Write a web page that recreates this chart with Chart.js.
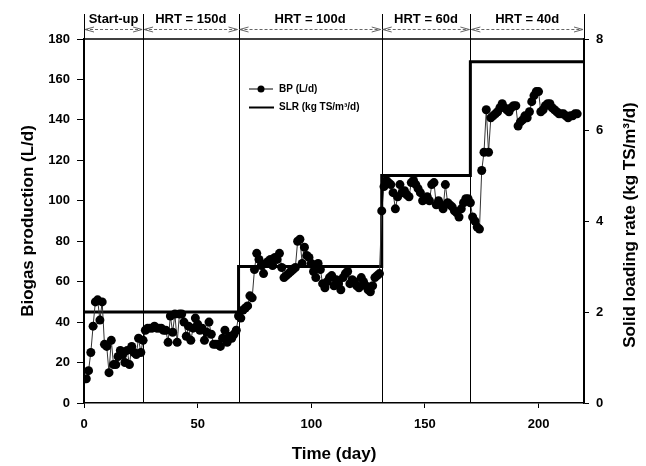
<!DOCTYPE html>
<html>
<head>
<meta charset="utf-8">
<script src="https://cdn.jsdelivr.net/npm/chart.js@4"></script>
<style>
  body { margin: 0; background: #fff; }
</style>
</head>
<body>
<canvas id="chart" width="646" height="466"></canvas>
<script>
// biogas production, one reading per day
const bpDays = [
  1, 2, 3, 4, 5, 6, 7, 8, 9, 10, 11, 12, 13, 14, 15, 16, 17, 18, 19, 20, 21, 22, 23, 24, 25, 26,
  27, 28, 29, 30, 31, 32, 33, 34, 35, 36, 37, 38, 39, 40, 41, 42, 43, 44, 45, 46, 47, 48, 49, 50,
  51, 52, 53, 54, 55, 56, 57, 58, 59, 60, 61, 62, 63, 64, 65, 66, 67,
  68, 69, 70, 71, 72, 73, 74, 75, 76, 77, 78, 79, 80, 81, 82, 83, 84, 85, 86, 87, 88, 89, 90,
  91, 92, 93, 94, 95, 96, 97, 98, 99, 100, 101, 102, 103, 104, 105, 106, 107, 108, 109, 110,
  111, 112, 113, 114, 115, 116, 117, 118, 119, 120, 121, 122, 123, 124, 125, 126, 127, 128, 129, 130,
  131, 132, 133, 134, 135, 136, 137, 138, 139, 140, 141, 142, 143, 144, 145, 146, 147, 148, 149, 150,
  151, 152, 153, 154, 155, 156, 157, 158, 159, 160, 161, 162, 163, 164, 165, 166, 167, 168, 169, 170,
  171, 172, 173, 174, 175, 176, 177, 178, 179, 180, 181, 182, 183, 184, 185, 186, 187, 188, 189, 190,
  191, 192, 193, 194, 195, 196, 197, 198, 199, 200, 201, 202, 203, 204, 205, 206, 207, 208, 209, 210,
  211, 212, 213, 214, 215, 216, 217
];
const bpValues = [
  12, 16, 25, 38, 50, 51, 41, 50, 29, 28, 15, 31, 19, 19, 23, 26, 24, 20, 26, 19, 28, 25, 24, 32, 25, 31,
  36, 37, 37, 37, 38, 37, 37, 37, 36, 36, 30, 43, 35, 44, 30, 44, 44, 40, 33, 38, 31, 37, 42, 39,
  36, 37, 31, 35, 40, 34, 29, 29, 29, 28, 32, 36, 30, 33, 32, 34, 36,
  43, 42, 46, 47, 48, 53, 52, 66, 74, 71, 68, 64, 69, 70, 71, 68, 72, 71, 74, 67, 62, 63, 64,
  65, 66, 67, 80, 81, 69, 77, 73, 72, 69, 65, 62, 69, 66, 59, 57, 60, 62, 63, 58,
  61, 59, 56, 62, 64, 65, 59, 61, 60, 58, 57, 62, 60, 58, 56, 55, 58, 62, 63, 64,
  95, 107, 110, 109, 108, 104, 96, 102, 108, 104, 105, 103, 102, 109, 110, 108, 106, 104, 100, 101,
  102, 100, 108, 109, 98, 100, 98, 96, 108, 99, 98, 97, 95, 94, 92, 96, 99, 101, 101, 99,
  92, 90, 87, 86, 115, 124, 145, 124, 141, 142, 143, 144, 146, 148, 146, 145, 144, 146, 147, 147,
  137, 139, 140, 142, 141, 144, 149, 152, 154, 154, 144, 145, 147, 148, 148, 146, 145, 144, 143, 143,
  143, 142, 141, 142, 142, 143, 143
];

// solid loading rate steps (kg TS/m3/d)
const slrDays = [0, 68, 68, 131, 131, 170, 170, 220];
const slrRates = [2, 2, 3, 3, 5, 5, 7.5, 7.5];

// operating phases
const phaseBounds = [0, 26, 68, 131, 170, 220];
const phaseLabels = ["Start-up", "HRT = 150d", "HRT = 100d", "HRT = 60d", "HRT = 40d"];

const xTicks = [0, 50, 100, 150, 200];

const FONT = "'Liberation Sans', Arial, sans-serif";
Chart.defaults.font.family = FONT;
Chart.defaults.color = "#000";

// header with phase arrows, top frame line, legend and right axis title
const decorPlugin = {
  id: "decor",
  afterDraw(chart) {
    const { ctx, chartArea } = chart;
    const xs = chart.scales.x;
    const px = phaseBounds.map((d) => xs.getPixelForValue(d));
    ctx.save();

    // top frame
    ctx.strokeStyle = "#000";
    ctx.lineWidth = 1.5;
    ctx.beginPath();
    ctx.moveTo(chartArea.left, chartArea.top);
    ctx.lineTo(chartArea.right, chartArea.top);
    ctx.stroke();

    // phase boundaries
    ctx.lineWidth = 1;
    px.forEach((x) => {
      ctx.beginPath();
      ctx.moveTo(Math.round(x) + 0.5, 14);
      ctx.lineTo(Math.round(x) + 0.5, chartArea.bottom);
      ctx.stroke();
    });

    // arrows and labels
    const ay = 29.5;
    for (let i = 0; i < phaseLabels.length; i++) {
      const a = px[i] + 1, b = px[i + 1] - 1;
      ctx.strokeStyle = "#666";
      ctx.setLineDash([3, 2]);
      ctx.beginPath();
      ctx.moveTo(a, ay);
      ctx.lineTo(b, ay);
      ctx.stroke();
      ctx.setLineDash([]);
      ctx.beginPath();
      ctx.moveTo(a + 9, ay - 2.5);
      ctx.lineTo(a, ay);
      ctx.lineTo(a + 9, ay + 2.5);
      ctx.moveTo(b - 9, ay - 2.5);
      ctx.lineTo(b, ay);
      ctx.lineTo(b - 9, ay + 2.5);
      ctx.stroke();

      ctx.fillStyle = "#000";
      ctx.font = "bold 13px " + FONT;
      ctx.textAlign = "center";
      ctx.textBaseline = "middle";
      ctx.fillText(phaseLabels[i], (px[i] + px[i + 1]) / 2, 19.5);
    }

    // legend
    const lx = chartArea.left + 165;
    const ly = chartArea.top + 50;
    ctx.strokeStyle = "#000";
    ctx.lineWidth = 1;
    ctx.beginPath();
    ctx.moveTo(lx, ly);
    ctx.lineTo(lx + 24, ly);
    ctx.stroke();
    ctx.fillStyle = "#000";
    ctx.beginPath();
    ctx.arc(lx + 12, ly, 3.5, 0, Math.PI * 2);
    ctx.fill();
    ctx.lineWidth = 2;
    ctx.beginPath();
    ctx.moveTo(lx, ly + 18.5);
    ctx.lineTo(lx + 25, ly + 18.5);
    ctx.stroke();
    ctx.font = "bold 10px " + FONT;
    ctx.textAlign = "left";
    ctx.textBaseline = "middle";
    ctx.fillText("BP (L/d)", lx + 30, ly);
    ctx.fillText("SLR (kg TS/m³/d)", lx + 30, ly + 18.5);

    // right axis title, reading bottom to top
    ctx.font = "bold 17px " + FONT;
    ctx.textAlign = "center";
    ctx.translate(630, (chartArea.top + chartArea.bottom) / 2 + 4);
    ctx.rotate(-Math.PI / 2);
    ctx.fillText("Solid loading rate (kg TS/m³/d)", 0, 0);
    ctx.restore();
  },
};

const tickFont = { size: 13, weight: "bold" };

new Chart(document.getElementById("chart").getContext("2d"), {
  type: "line",
  data: {
    datasets: [
      {
        label: "BP (L/d)",
        data: bpDays.map((d, i) => ({ x: d, y: bpValues[i] })),
        yAxisID: "y",
        borderColor: "#333",
        borderWidth: 1,
        pointRadius: 4.5,
        pointBackgroundColor: "#000",
        pointBorderColor: "#000",
        pointBorderWidth: 0,
        order: 0,
      },
      {
        label: "SLR (kg TS/m³/d)",
        data: slrDays.map((d, i) => ({ x: d, y: slrRates[i] })),
        yAxisID: "y2",
        borderColor: "#000",
        borderWidth: 3,
        pointRadius: 0,
        order: 1,
      },
    ],
  },
  options: {
    responsive: false,
    animation: false,
    devicePixelRatio: 1,
    layout: { padding: { top: 39, left: 0, right: 0, bottom: 0 } },
    plugins: {
      legend: { display: false },
      tooltip: { enabled: false },
    },
    scales: {
      x: {
        type: "linear",
        min: 0,
        max: 220,
        afterBuildTicks: (s) => { s.ticks = xTicks.map((v) => ({ value: v })); },
        afterFit: (s) => { s.height = 63; },
        grid: { drawOnChartArea: false, tickLength: 5, color: "#000" },
        border: { color: "#000", width: 1.5 },
        ticks: { font: tickFont, padding: 9, maxRotation: 0 },
        title: {
          display: true,
          text: "Time (day)",
          font: { size: 17, weight: "bold" },
          padding: { top: 0, bottom: 1 },
        },
      },
      y: {
        position: "left",
        min: 0,
        max: 180,
        ticks: { stepSize: 20, font: tickFont, padding: 7 },
        afterFit: (s) => { s.width = 84; },
        grid: { drawOnChartArea: false, tickLength: 7, color: "#000" },
        border: { color: "#000", width: 1.5 },
        title: {
          display: true,
          text: "Biogas production (L/d)",
          font: { size: 17, weight: "bold" },
          padding: { top: 18, bottom: 0 },
        },
      },
      y2: {
        position: "right",
        min: 0,
        max: 8,
        ticks: { stepSize: 2, font: tickFont, padding: 7 },
        afterFit: (s) => { s.width = 62; },
        grid: { drawOnChartArea: false, tickLength: 5, color: "#000" },
        border: { color: "#000", width: 1.5 },
      },
    },
  },
  plugins: [decorPlugin],
});
</script>
</body>
</html>
